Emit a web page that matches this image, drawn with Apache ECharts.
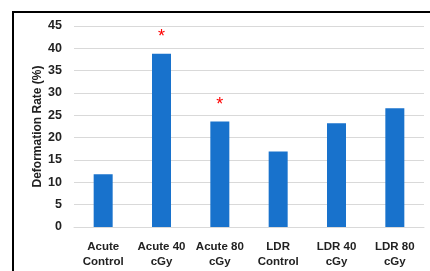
<!DOCTYPE html>
<html>
<head>
<meta charset="utf-8">
<script src="https://cdn.jsdelivr.net/npm/echarts@6/dist/echarts.min.js"></script>
<style>
  html, body { margin: 0; padding: 0; background: #fff; }
  #main { width: 430px; height: 271px; }
</style>
</head>
<body>
<div id="main"></div>
<script>
  // groups on the x axis
  var categories = ['Acute\nControl', 'Acute 40\ncGy', 'Acute 80\ncGy', 'LDR\nControl', 'LDR 40\ncGy', 'LDR 80\ncGy'];
  // deformation rate (%)
  var rates = [11.8, 38.8, 23.6, 16.9, 23.2, 26.6];
  // significance marks above bars
  var marks = ['', '*', '*', '', '', ''];

  var myChart = echarts.init(document.getElementById('main'));
  var font = 'Liberation Sans, Arial, sans-serif';

  var option = {
    animation: false,
    graphic: [{
      type: 'rect',
      shape: { x: 13, y: 12, width: 440, height: 300 },
      style: { fill: 'none', stroke: '#000', lineWidth: 2 },
      silent: true
    }],
    grid: { left: 74, right: 6, top: 26, bottom: 44 },
    xAxis: {
      type: 'category',
      data: categories,
      axisLine: { lineStyle: { color: '#d9d9d9', width: 1 } },
      axisTick: { show: false },
      axisLabel: {
        color: '#222',
        fontFamily: font,
        fontWeight: 'bold',
        fontSize: 11.5,
        lineHeight: 15,
        margin: 12,
        interval: 0
      }
    },
    yAxis: {
      type: 'value',
      min: 0,
      max: 45,
      interval: 5,
      name: 'Deformation Rate (%)',
      nameLocation: 'middle',
      nameGap: 30,
      nameMoveOverlap: false,
      nameTextStyle: {
        color: '#222',
        fontFamily: font,
        fontWeight: 'bold',
        fontSize: 12
      },
      axisLine: { show: false },
      axisTick: { show: false },
      splitLine: { lineStyle: { color: '#d9d9d9', width: 1 } },
      axisLabel: {
        color: '#222',
        fontFamily: font,
        fontWeight: 'bold',
        fontSize: 12.5,
        margin: 12
      }
    },
    series: [{
      type: 'bar',
      barWidth: 19,
      itemStyle: { color: '#1872cc' },
      data: rates.map(function (v, i) {
        return {
          value: v,
          label: {
            show: marks[i] !== '',
            position: 'top',
            distance: 8,
            formatter: marks[i],
            color: '#ff0000',
            fontSize: 18,
            fontFamily: font
          }
        };
      })
    }]
  };

  myChart.setOption(option);
  window.addEventListener("resize", () => { myChart.resize(); });
</script>
</body>
</html>
